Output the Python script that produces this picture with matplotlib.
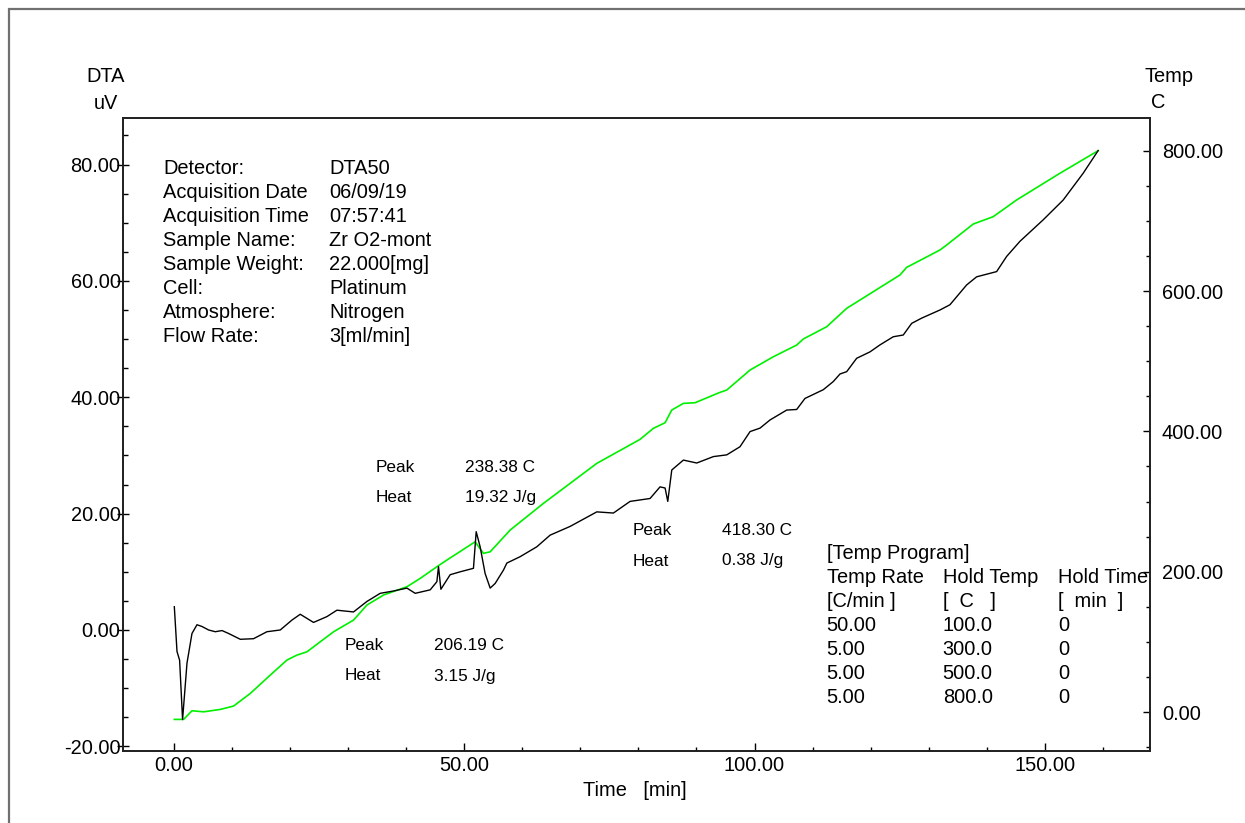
import numpy as np
import matplotlib
matplotlib.use('Agg')
import matplotlib.pyplot as plt
from matplotlib.ticker import MultipleLocator, FormatStrFormatter
from matplotlib.patches import Rectangle

plt.rcParams['font.family'] = ['Liberation Sans', 'DejaVu Sans']

# DTA signal (black)
time_dta = [0.09, 0.55, 1.0, 1.51, 2.27, 3.13, 3.99, 4.85, 5.99, 7.14, 8.30, 9.43,
            11.45, 13.73, 16.04, 18.33, 20.34, 21.77, 24.06, 26.37, 28.09, 30.95,
            33.25, 35.54, 37.83, 40.14, 41.57, 44.15, 45.30, 45.58, 45.99, 47.59,
            49.31, 51.60, 52.07, 52.75, 53.61, 54.48, 55.34, 56.77, 57.35, 59.64,
            62.51, 64.80, 68.24, 72.84, 75.70, 78.57, 82.01, 83.73, 84.60, 85.06,
            85.75, 87.75, 90.05, 92.91, 95.22, 97.50, 99.23, 100.95, 102.67, 105.54,
            107.26, 108.69, 111.84, 113.56, 114.72, 115.87, 117.59, 119.88, 121.60,
            123.89, 125.61, 127.06, 128.78, 131.93, 133.65, 136.52, 138.24, 141.69,
            143.41, 145.70, 149.71, 153.15, 156.59, 159.17]
dta_uv = [4.0, -3.7, -5.2, -15.4, -5.7, -0.6, 0.9, 0.6, 0.0, -0.3, -0.1, -0.6,
          -1.6, -1.5, -0.3, 0.0, 1.7, 2.7, 1.3, 2.3, 3.4, 3.1,
          4.9, 6.3, 6.7, 7.2, 6.3, 6.9, 8.3, 10.9, 7.0, 9.5,
          10.0, 10.6, 16.9, 14.3, 9.7, 7.2, 8.0, 10.3, 11.5, 12.6,
          14.3, 16.3, 17.8, 20.3, 20.1, 22.1, 22.6, 24.6, 24.4, 22.1,
          27.5, 29.2, 28.7, 29.8, 30.1, 31.5, 34.1, 34.7, 36.1, 37.8,
          37.9, 39.8, 41.3, 42.7, 44.0, 44.4, 46.7, 47.8, 49.0,
          50.4, 50.7, 52.7, 53.6, 55.0, 55.9, 59.3, 60.7, 61.6,
          64.2, 66.8, 70.5, 73.9, 78.5, 82.4]

# sample temperature (green)
time_temp = [0.09, 1.69, 3.13, 5.13, 8.00, 10.29, 13.17, 16.61, 19.48, 21.20, 22.93,
             27.50, 30.95, 33.25, 36.11, 40.14, 42.43, 45.30, 47.02, 51.89, 53.32,
             54.48, 57.92, 63.65, 72.84, 80.29, 82.58, 84.60, 85.75, 87.75, 89.76,
             94.06, 95.22, 99.23, 103.24, 107.26, 108.40, 112.43, 115.87, 120.45,
             125.04, 126.20, 131.93, 133.08, 137.66, 141.10, 145.13, 152.58, 159.17]
temp_c = [-10.4, -10.4, 1.9, 0.4, 3.8, 8.6, 26.6, 52.7, 74.1, 81.2, 85.9,
          114.4, 131.1, 152.5, 166.8, 178.6, 190.5, 207.1, 216.6, 242.7, 226.2,
          228.4, 259.4, 297.4, 354.4, 388.6, 404.3, 412.3, 430.4, 439.9, 440.8,
          455.6, 458.9, 487.4, 506.3, 523.0, 531.6, 549.1, 575.3, 599.0,
          622.8, 633.7, 658.4, 665.5, 695.4, 705.9, 729.7, 767.7, 799.9]

info_labels = ['Detector:', 'Acquisition Date', 'Acquisition Time', 'Sample Name:',
               'Sample Weight:', 'Cell:', 'Atmosphere:', 'Flow Rate:']
info_values = ['DTA50', '06/09/19', '07:57:41', 'Zr O2-mont', '22.000[mg]',
               'Platinum', 'Nitrogen', '3[ml/min]']

peaks = [('238.38 C', '19.32 J/g'), ('418.30 C', '0.38 J/g'), ('206.19 C', '3.15 J/g')]

prog_rate = ['50.00', '5.00', '5.00', '5.00']
prog_hold_temp = ['100.0', '300.0', '500.0', '800.0']
prog_hold_time = ['0', '0', '0', '0']

W, H = 1245, 823
fig = plt.figure(figsize=(W / 100, H / 100), dpi=100)


def fx(x):
    return x / W


def fy(y):
    return 1 - y / H


# outer grey frame
fig.patches.append(Rectangle((fx(9), fy(H + 20)), 1.2, fy(9) - fy(H + 20),
                             transform=fig.transFigure, fill=False,
                             edgecolor='#707070', lw=1.6))

ax = fig.add_axes([fx(122.7), fy(750.7), fx(1150) - fx(122.7), fy(118) - fy(750.7)])
ax2 = ax.twinx()

ax.plot(time_dta, dta_uv, color='black', lw=1.0, zorder=3)
ax2.plot(time_temp, temp_c, color='#00f000', lw=1.2)
ax.set_zorder(ax2.get_zorder() + 1)
ax.patch.set_visible(False)

ax.set_xlim(-8.8, 168.1)
ax.set_ylim(-20.75, 88.0)
ax2.set_ylim(-55.0, 846.5)

fs = 14.4
ax.xaxis.set_major_locator(MultipleLocator(50))
ax.xaxis.set_minor_locator(MultipleLocator(10))
ax.yaxis.set_major_locator(MultipleLocator(20))
ax.yaxis.set_minor_locator(MultipleLocator(5))
ax2.yaxis.set_major_locator(MultipleLocator(200))
ax2.yaxis.set_minor_locator(MultipleLocator(50))
ax.xaxis.set_major_formatter(FormatStrFormatter('%.2f'))
ax.yaxis.set_major_formatter(FormatStrFormatter('%.2f'))
ax2.yaxis.set_major_formatter(FormatStrFormatter('%.2f'))

ax.tick_params(axis='x', which='major', direction='in', length=5.5, width=1, pad=4, labelsize=fs)
ax.tick_params(axis='x', which='minor', direction='in', length=3, width=1)
ax.tick_params(axis='y', which='major', direction='inout', length=8, width=1, pad=-2.5, labelsize=fs)
ax.tick_params(axis='y', which='minor', direction='in', length=3.5, width=1)
ax2.tick_params(axis='y', which='major', direction='in', length=5, width=1, pad=8.5, labelsize=fs)
ax2.tick_params(axis='y', which='minor', direction='in', length=3, width=1)

for a in (ax, ax2):
    for s in a.spines.values():
        s.set_linewidth(1.3)
        s.set_color('#222222')

# axis titles
fig.text(fx(106), fy(76), 'DTA', ha='center', va='center', fontsize=fs)
fig.text(fx(106), fy(103.5), 'uV', ha='center', va='center', fontsize=fs)
fig.text(fx(1169), fy(76), 'Temp', ha='center', va='center', fontsize=fs)
fig.text(fx(1151), fy(103), 'C', ha='left', va='center', fontsize=fs)
fig.text(fx(635), fy(790), 'Time   [min]', ha='center', va='center', fontsize=fs)

# acquisition info block
for i, (lab, val) in enumerate(zip(info_labels, info_values)):
    fig.text(fx(163), fy(174 + 24 * i), lab, ha='left', va='baseline', fontsize=fs)
    fig.text(fx(329), fy(174 + 24 * i), val, ha='left', va='baseline', fontsize=fs)

# peak annotations
peak_pos = [(376, 465, 472), (633, 722.5, 535), (345, 434, 650)]
pfs = 12.4
for (xl, xv, yb), (pk, ht) in zip(peak_pos, peaks):
    fig.text(fx(xl), fy(yb), 'Peak', ha='left', va='baseline', fontsize=pfs)
    fig.text(fx(xv), fy(yb), pk, ha='left', va='baseline', fontsize=pfs)
    fig.text(fx(xl), fy(yb + 30.5), 'Heat', ha='left', va='baseline', fontsize=pfs)
    fig.text(fx(xv), fy(yb + 30.5), ht, ha='left', va='baseline', fontsize=pfs)

# temperature program table
cols = [826.7, 942.7, 1058.3]
fig.text(fx(cols[0]), fy(559.3), '[Temp Program]', ha='left', va='baseline', fontsize=fs)
heads = [('Temp Rate', '[C/min ]'), ('Hold Temp', '[  C   ]'), ('Hold Time', '[  min  ]')]
for c, (h1, h2) in zip(cols, heads):
    fig.text(fx(c), fy(583.3), h1, ha='left', va='baseline', fontsize=fs)
    fig.text(fx(c), fy(607.3), h2, ha='left', va='baseline', fontsize=fs)
for i in range(len(prog_rate)):
    yb = 631.3 + 24 * i
    fig.text(fx(cols[0]), fy(yb), prog_rate[i], ha='left', va='baseline', fontsize=fs)
    fig.text(fx(cols[1]), fy(yb), prog_hold_temp[i], ha='left', va='baseline', fontsize=fs)
    fig.text(fx(cols[2]), fy(yb), prog_hold_time[i], ha='left', va='baseline', fontsize=fs)

fig.savefig('out.png', dpi=100)
